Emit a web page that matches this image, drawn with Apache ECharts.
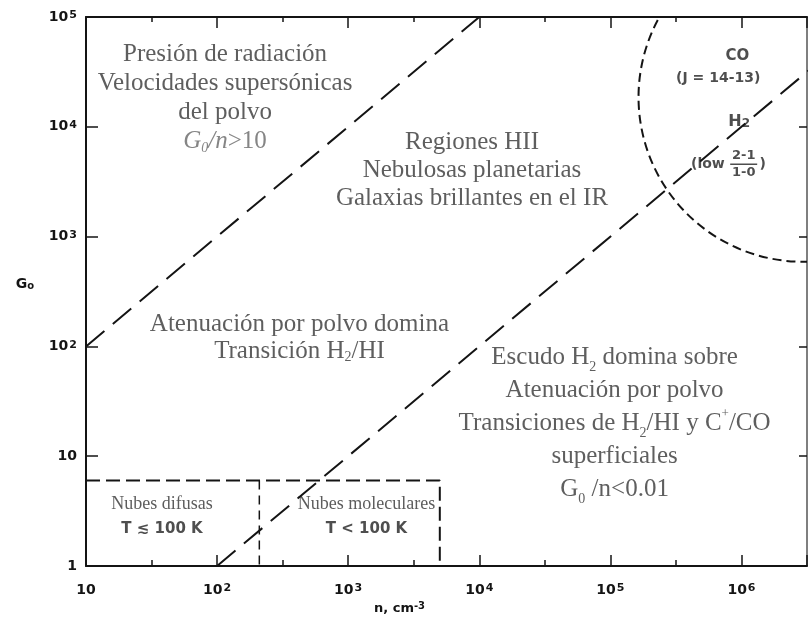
<!DOCTYPE html>
<html>
<head>
<meta charset="utf-8">
<script src="https://cdn.jsdelivr.net/npm/echarts@6/dist/echarts.min.js"></script>
<style>
  html, body { margin: 0; padding: 0; background: #fff; }
  #chart { width: 810px; height: 637px; }
</style>
</head>
<body>
<div id="chart"></div>
<script>
// ---- Diagram data: density n (cm^-3) vs. FUV field G0 ----
// Axis extent, in decades
const nDecades = [1, 6.5];
const gDecades = [0, 5];

// Boundary G0/n = 10
const ratioHighN = [10, 1e4];
const ratioHighG = [100, 1e5];

// Boundary G0/n = 0.01
const ratioLowN = [100, 1e7];
const ratioLowG = [1, 1e5];

// Cloud boxes (diffuse | molecular)
const boxOuterN = [10, 5000, 5000];
const boxOuterG = [6, 6, 1];
const boxDividerN = [210, 210];
const boxDividerG = [6, 1];

// Dense-PDR region: centre (n, G0) and radius in decades of n
const pdrCenter = [2.95e6, 1.86e4];
const pdrRadius = 1.255;

// Region labels: text and anchor (n, G0)
const labelTexts = [
  'Presión de radiación\nVelocidades supersónicas\ndel polvo\n{i|G}{is|0}{i|/n}{ig|>10}',
  'Regiones HII\nNebulosas planetarias\nGalaxias brillantes en el IR',
  'Atenuación por polvo domina\nTransición H{s|2}/HI',
  '{l|Escudo H}{ls|2}{l| domina sobre}\n{l|Atenuación por polvo}\n{l|Transiciones de H}{ls|2}{l|/HI y C}{lp|+}{l|/CO}\n{l|superficiales}\n{l|G}{ls|0}{l| /n<0.01}',
  '{a|Nubes difusas}\n{b|T ≲ 100 K}',
  '{a|Nubes moleculares}\n{b|T < 100 K}',
  'CO',
  '(J = 14-13)',
  'H{s|2}',
  '(low',
  '{f|2-1}\n{bar| }\n{f|1-0}',
  ')'
];
const labelN = [115, 8.8e3, 425, 1.077e5, 38, 1380, 9.3e5, 6.65e5, 9.6e5, 5.55e5, 1.04e6, 1.45e6];
const labelG = [1.85e4, 4.0e3, 120, 19.8, 2.8, 2.8, 4.4e4, 2.78e4, 1.12e4, 4.56e3, 4.56e3, 4.56e3];

// ---- helpers ----
const L = v => Math.log10(v);
const pts = (xs, ys) => xs.map((x, i) => [L(x), L(ys[i])]);

const INK = '#141414';
const TEXT = '#363636';
const SERIF = 'Liberation Serif';
const SANS = 'DejaVu Sans';

const tickRich = {
  sup: { fontFamily: SANS, fontWeight: 'bold', fontSize: 11, color: INK, verticalAlign: 'top', lineHeight: 10, padding: [0, 0, 0, 1] }
};
function decadeLabel(v) {
  if (Math.abs(v - Math.round(v)) > 1e-6) return '';
  const k = Math.round(v);
  if (k === 0) return '1';
  if (k === 1) return '10';
  return '10{sup|' + k + '}';
}

const SZ = 25;
const serifStyle = { fontFamily: SERIF, fontSize: SZ, color: TEXT };
const serifSub = { fontFamily: SERIF, fontSize: 14, color: TEXT, verticalAlign: 'bottom', lineHeight: 13 };

const cloudRich = {
  a: { fontFamily: SERIF, fontSize: 18, color: '#333', lineHeight: 25 },
  b: { fontFamily: SANS, fontWeight: 'bold', fontSize: 15, color: '#222', lineHeight: 25 }
};

const labelStyles = [
  { ...serifStyle, lineHeight: 29, rich: {
      i: { fontFamily: SERIF, fontStyle: 'italic', fontSize: SZ, color: '#666' },
      is: { fontFamily: SERIF, fontStyle: 'italic', fontSize: 14, color: '#666', verticalAlign: 'bottom', lineHeight: 13 },
      ig: { fontFamily: SERIF, fontSize: SZ, color: '#666' } } },
  { ...serifStyle, lineHeight: 28 },
  { ...serifStyle, lineHeight: 27, rich: { s: serifSub } },
  { ...serifStyle, lineHeight: 33, rich: {
      l: { ...serifStyle, lineHeight: 33 },
      ls: serifSub,
      lp: { fontFamily: SERIF, fontSize: 13, color: TEXT, verticalAlign: 'top', lineHeight: 22 } } },
  { rich: cloudRich },
  { rich: cloudRich },
  { fontFamily: SANS, fontWeight: 'bold', fontSize: 15, color: '#222' },
  { fontFamily: SANS, fontWeight: 'bold', fontSize: 14, color: '#222' },
  { fontFamily: SANS, fontWeight: 'bold', fontSize: 16, color: '#222', rich: {
      s: { fontFamily: SANS, fontWeight: 'bold', fontSize: 12, color: '#222', verticalAlign: 'bottom', lineHeight: 12 } } },
  { fontFamily: SANS, fontWeight: 'bold', fontSize: 14, color: '#222' },
  { rich: {
      f: { fontFamily: SANS, fontWeight: 'bold', fontSize: 13, color: '#222', lineHeight: 14, align: 'center' },
      bar: { width: 27, height: 1.5, lineHeight: 3, backgroundColor: '#222', align: 'center' } } },
  { fontFamily: SANS, fontWeight: 'bold', fontSize: 14, color: '#222' }
];

const labelData = labelTexts.map((t, i) => ({
  value: [L(labelN[i]), L(labelG[i])],
  label: { show: true, position: 'inside', align: 'center', verticalAlign: 'middle', formatter: t, ...labelStyles[i] }
}));

const dashedLine = (name, data, dash, width) => ({
  name, type: 'line', data, symbol: 'none', silent: true, clip: true,
  lineStyle: { color: INK, width: width, type: dash }
});

function xAxisDef(position, interval, tickLen, withLine, withLabels) {
  return {
    type: 'value', position, min: nDecades[0], max: nDecades[1], interval,
    axisLine: { show: withLine, onZero: false, lineStyle: { color: INK, width: 2 } },
    axisTick: { show: true, inside: true, length: tickLen, lineStyle: { color: INK, width: 1.5 } },
    axisLabel: withLabels ? {
      formatter: decadeLabel, rich: tickRich, margin: 17,
      fontFamily: SANS, fontWeight: 'bold', fontSize: 14, color: INK
    } : { show: false },
    splitLine: { show: false }
  };
}

const chart = echarts.init(document.getElementById('chart'), null, { renderer: 'canvas' });
const xBottom = xAxisDef('bottom', 1, 11, true, true);
xBottom.name = 'n, cm{sup|-3}';
xBottom.nameLocation = 'middle';
xBottom.nameGap = 32;
xBottom.nameTextStyle = {
  fontFamily: SANS, fontWeight: 'bold', fontSize: 13, color: INK, padding: [0, 94, 0, 0],
  rich: { sup: { fontFamily: SANS, fontWeight: 'bold', fontSize: 10, color: INK, verticalAlign: 'top', lineHeight: 9 } }
};

chart.setOption({
  animation: false,
  backgroundColor: '#ffffff',
  grid: { left: 86, right: 1, top: 17, bottom: 71, containLabel: false },
  xAxis: [
    xBottom,
    xAxisDef('bottom', 0.5, 6, false, false),
    xAxisDef('top', 1, 11, true, false),
    xAxisDef('top', 0.5, 5, false, false)
  ],
  yAxis: [
    {
      type: 'value', position: 'left', min: gDecades[0], max: gDecades[1], interval: 1,
      axisLine: { show: true, onZero: false, lineStyle: { color: INK, width: 2 } },
      axisTick: { show: true, inside: true, length: 12, lineStyle: { color: INK, width: 1.5 } },
      axisLabel: { formatter: decadeLabel, rich: tickRich, margin: 9, fontFamily: SANS, fontWeight: 'bold', fontSize: 14, color: INK },
      splitLine: { show: false },
      name: 'G{sub|o}', nameLocation: 'middle', nameRotate: 0, nameGap: 52,
      nameTextStyle: {
        fontFamily: SANS, fontWeight: 'bold', fontSize: 14, color: INK, padding: [0, 0, 14, 0],
        rich: { sub: { fontFamily: SANS, fontWeight: 'bold', fontSize: 10, color: INK, verticalAlign: 'bottom', lineHeight: 10 } }
      }
    },
    {
      type: 'value', position: 'right', min: gDecades[0], max: gDecades[1], interval: 1,
      axisLine: { show: true, onZero: false, lineStyle: { color: '#555', width: 1.5 } },
      axisTick: { show: true, inside: true, length: 8, lineStyle: { color: INK, width: 1.5 } },
      axisLabel: { show: false },
      splitLine: { show: false }
    }
  ],
  series: [
    dashedLine('G0/n = 10', pts(ratioHighN, ratioHighG), [24, 11], 2),
    dashedLine('G0/n = 0.01', pts(ratioLowN, ratioLowG), [24, 11], 2),
    dashedLine('Nubes', pts(boxOuterN, boxOuterG), [14, 6], 2),
    dashedLine('Divisor', pts(boxDividerN, boxDividerG), [9, 6], 1.5),
    {
      name: 'PDR densa', type: 'custom', silent: true, clip: true,
      data: [[L(pdrCenter[0]), L(pdrCenter[1]), pdrRadius]],
      renderItem: (params, api) => {
        const c = api.coord([api.value(0), api.value(1)]);
        const r = api.size([api.value(2), 0])[0];
        return {
          type: 'circle',
          shape: { cx: c[0], cy: c[1], r },
          style: { fill: 'none', stroke: INK, lineWidth: 2, lineDash: [9, 5] }
        };
      }
    },
    {
      name: 'Regiones', type: 'scatter', silent: true, symbolSize: 1,
      itemStyle: { color: 'rgba(0,0,0,0)' },
      data: labelData
    }
  ]
});
</script>
</body>
</html>
